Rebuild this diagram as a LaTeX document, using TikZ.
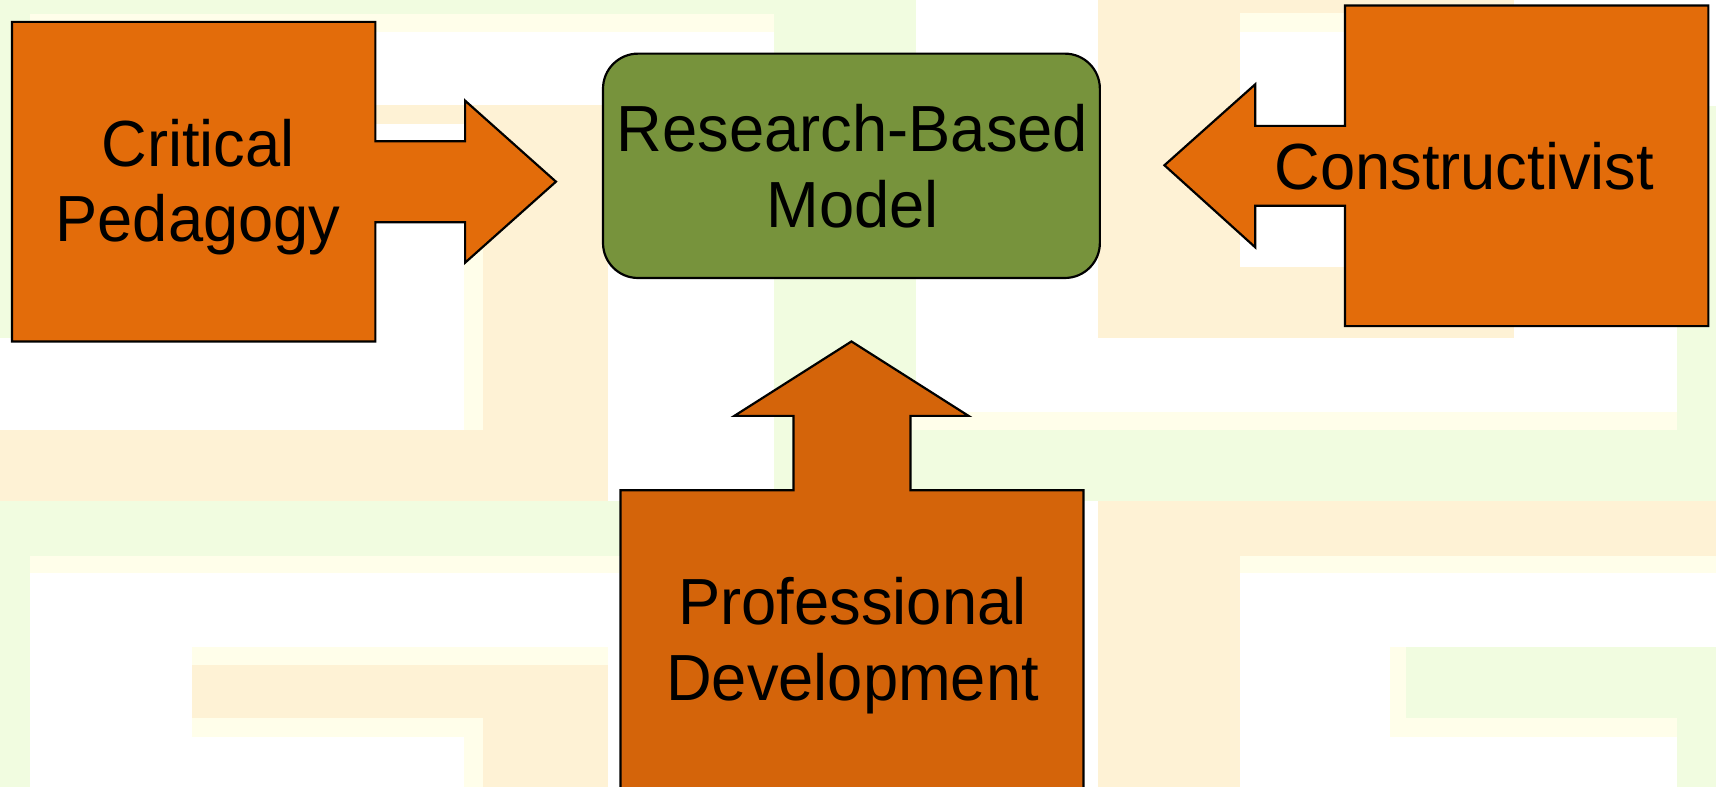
\documentclass[tikz,border=0pt]{standalone}
\usepackage{fontspec}
\newfontfamily\lblfont[FakeStretch=0.97]{Liberation Sans}
\definecolor{bggreen}{HTML}{F1FCE0}
\definecolor{bgcream}{HTML}{FEF2D5}
\definecolor{bgyellow}{HTML}{FFFEEA}
\definecolor{orangeA}{HTML}{E36C0A}
\definecolor{orangeB}{HTML}{D4640A}
\definecolor{modelgreen}{HTML}{77933C}
\tikzset{
  callout/.style={draw=black, line width=1pt, line join=miter, fill=orangeA},
  lbl/.style={font=\lblfont\fontsize{29.8pt}{34.5pt}\selectfont, align=center, inner sep=0pt, text=black},
}
\begin{document}
\begin{tikzpicture}[x=0.5pt,y=-0.5pt]
\useasboundingbox (0,0) rectangle (1568,719);
\clip (0,0) rectangle (1568,719);
\fill[white] (0,0) rectangle (1568,719);
% background pattern
\fill[bggreen] (0,0) rectangle (707,13);
\fill[bggreen] (0,0) rectangle (27,309);
\fill[bgyellow] (27,13) rectangle (707,29);
\fill[bggreen] (707,0) rectangle (837,458);
\fill[bgcream] (1003,0) rectangle (1383,309);
\fill[white] (1133,29) rectangle (1383,244);
\fill[bgyellow] (1133,12) rectangle (1383,29);
\fill[bggreen] (1532,97) rectangle (1568,393);
\fill[bgcream] (341,96) rectangle (556,113);
\fill[bgcream] (424,96) rectangle (556,458);
\fill[bgyellow] (424,113) rectangle (441,393);
\fill[bgcream] (0,393) rectangle (556,458);
\fill[bggreen] (0,458) rectangle (990,508);
\fill[bgyellow] (27,508) rectangle (566,524);
\fill[bggreen] (0,458) rectangle (27,719);
\fill[bgyellow] (832,376) rectangle (1532,393);
\fill[bggreen] (832,393) rectangle (1568,458);
\fill[bgcream] (1003,458) rectangle (1568,508);
\fill[bgcream] (1003,458) rectangle (1133,719);
\fill[bgyellow] (1133,508) rectangle (1568,524);
\fill[bgyellow] (1270,591) rectangle (1532,673);
\fill[bggreen] (1285,591) rectangle (1568,656);
\fill[bggreen] (1532,656) rectangle (1568,719);
\fill[bgyellow] (175,591) rectangle (556,673);
\fill[bgcream] (175,608) rectangle (556,656);
\fill[bgcream] (424,608) rectangle (556,719);
\fill[bgyellow] (424,656) rectangle (441,719);
% left callout
\draw[callout] (11,20) -- (343,20) -- (343,129) -- (425,129) -- (425,92) -- (508,166)
  -- (425,240) -- (425,203) -- (343,203) -- (343,312) -- (11,312) -- cycle;
% right callout
\draw[callout] (1561,5) -- (1229,5) -- (1229,115) -- (1147,115) -- (1147,77) -- (1064,151)
  -- (1147,226) -- (1147,188) -- (1229,188) -- (1229,298) -- (1561,298) -- cycle;
% bottom callout
\draw[callout, fill=orangeB] (567,730) -- (567,448) -- (725,448) -- (725,380) -- (671,380)
  -- (778,312) -- (885,380) -- (832,380) -- (832,448) -- (990,448) -- (990,730) -- cycle;
% centre box
\draw[line width=1pt, fill=modelgreen, rounded corners=16pt] (551,49) rectangle (1005,254);
% labels
\node[lbl] (crit) at (181,171) {Critical\\Pedagogy};
\node[lbl] (model) at (779,152) {Research-Based\\Model};
\node[lbl] (cons) at (1338,152) {Constructivist};
\node[lbl] (prof) at (779,590) {Professional\\Development};
\end{tikzpicture}
\end{document}
